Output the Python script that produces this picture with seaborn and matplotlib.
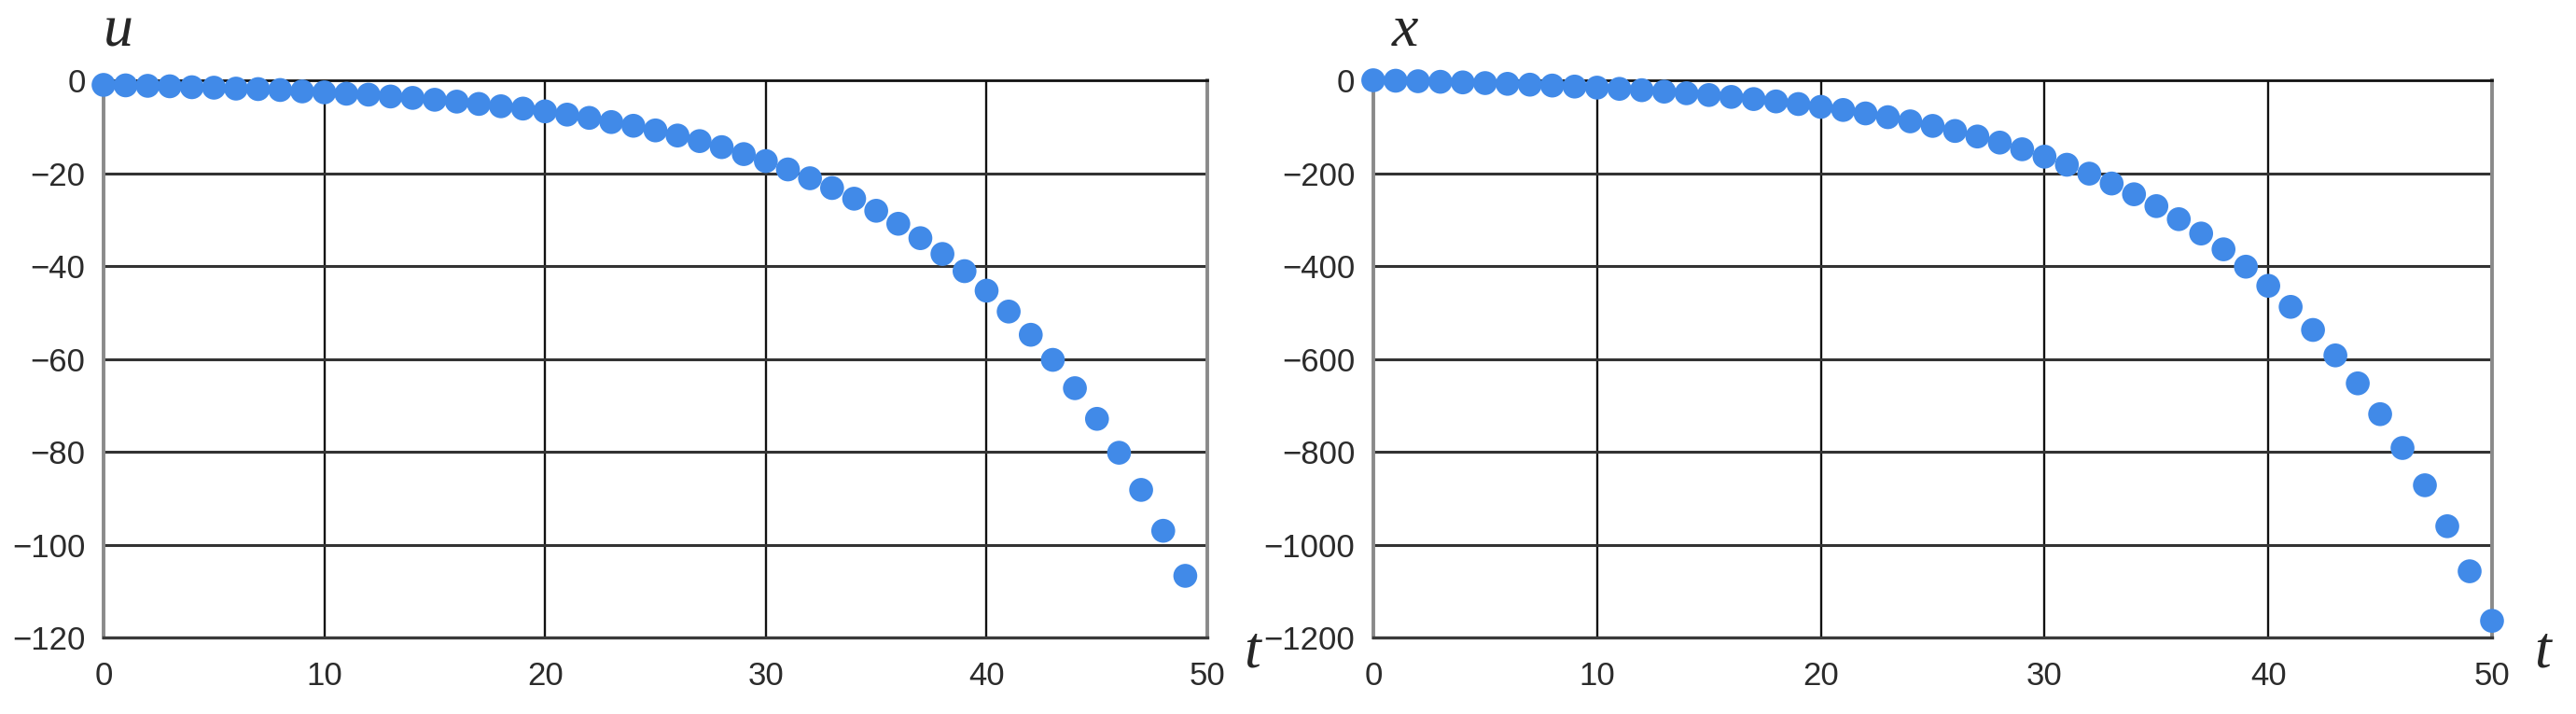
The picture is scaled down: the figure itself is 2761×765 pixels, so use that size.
import numpy as np
import pandas as pd
import matplotlib
matplotlib.use("Agg")
import matplotlib.pyplot as plt
import seaborn as sns

# values
t_u = list(range(0, 50))
u_vals = [-1.0, -1.1, -1.2, -1.3, -1.5, -1.6, -1.8, -1.9, -2.1, -2.4,
          -2.6, -2.9, -3.1, -3.5, -3.8, -4.2, -4.6, -5.1, -5.6, -6.1,
          -6.7, -7.4, -8.1, -9.0, -9.8, -10.8, -11.9, -13.1, -14.4, -15.9,
          -17.4, -19.2, -21.1, -23.2, -25.5, -28.1, -30.9, -34.0, -37.4, -41.1,
          -45.3, -49.8, -54.8, -60.2, -66.3, -72.9, -80.2, -88.2, -97.0, -106.7]

t_x = list(range(0, 51))
x_vals = [0.0, -1.0, -2.1, -3.3, -4.6, -6.1, -7.7, -9.5, -11.4, -13.6,
          -15.9, -18.5, -21.4, -24.5, -28.0, -31.8, -35.9, -40.5, -45.6, -51.2,
          -57.3, -64.0, -71.4, -79.5, -88.5, -98.3, -109.2, -121.1, -134.2, -148.6,
          -164.5, -181.9, -201.1, -222.3, -245.5, -271.0, -299.1, -330.0, -364.0, -401.4,
          -442.6, -487.9, -537.6, -592.4, -652.6, -718.9, -791.8, -872.0, -960.2, -1057.2,
          -1163.9]

u_ticks = [0, -20, -40, -60, -80, -100, -120]
x_ticks = [0, -200, -400, -600, -800, -1000, -1200]
t_ticks = [0, 10, 20, 30, 40, 50]

df_u = pd.DataFrame({"t": t_u, "val": u_vals})
df_x = pd.DataFrame({"t": t_x, "val": x_vals})

sns.set_style("white")
plt.rcParams["font.family"] = ["Liberation Sans", "DejaVu Sans"]

fig = plt.figure(figsize=(27.61, 7.65), dpi=100)
ax1 = fig.add_axes([0.0402, 0.107, 0.4285, 0.7806])
ax2 = fig.add_axes([0.5331, 0.107, 0.4343, 0.7806])

dot = "#418AE8"
panels = [(ax1, df_u, u_ticks, "u", 0.0460, 0.4860),
          (ax2, df_x, x_ticks, "x", 0.5455, 0.9870)]

for ax, d, yt, name, lx, tx in panels:
    sns.scatterplot(data=d, x="t", y="val", ax=ax, s=340, color=dot,
                    edgecolor="none", clip_on=False, zorder=5)
    ax.set_xlim(0, 50)
    ax.set_ylim(yt[-1], 0)
    ax.set_xticks(t_ticks)
    ax.set_yticks(yt)
    ax.set_xlabel("")
    ax.set_ylabel("")
    ax.grid(False)
    for v in t_ticks[1:-1]:
        ax.axvline(v, color="#111111", lw=1.7, zorder=1)
    for v in yt[1:-1]:
        ax.axhline(v, color="#333333", lw=2.2, zorder=1)
    for side in ["left", "right"]:
        ax.spines[side].set_color("#8a8a8a")
        ax.spines[side].set_linewidth(2.8)
    ax.spines["top"].set_color("#111111")
    ax.spines["top"].set_linewidth(2.0)
    ax.spines["bottom"].set_color("#3a3a3a")
    ax.spines["bottom"].set_linewidth(2.4)
    ax.tick_params(direction="out", length=8, width=2, color="#555555",
                   labelsize=25, labelcolor="#2b2b2b")
    ax.tick_params(axis="y", pad=6)
    ax.tick_params(axis="x", pad=10)
    fig.text(lx, 0.955, name, fontsize=46, style="italic",
             family="Liberation Serif", ha="center", va="center")
    fig.text(tx, 0.085, "t", fontsize=46, style="italic",
             family="Liberation Serif", ha="center", va="center")

fig.savefig("out.png", dpi=100)
